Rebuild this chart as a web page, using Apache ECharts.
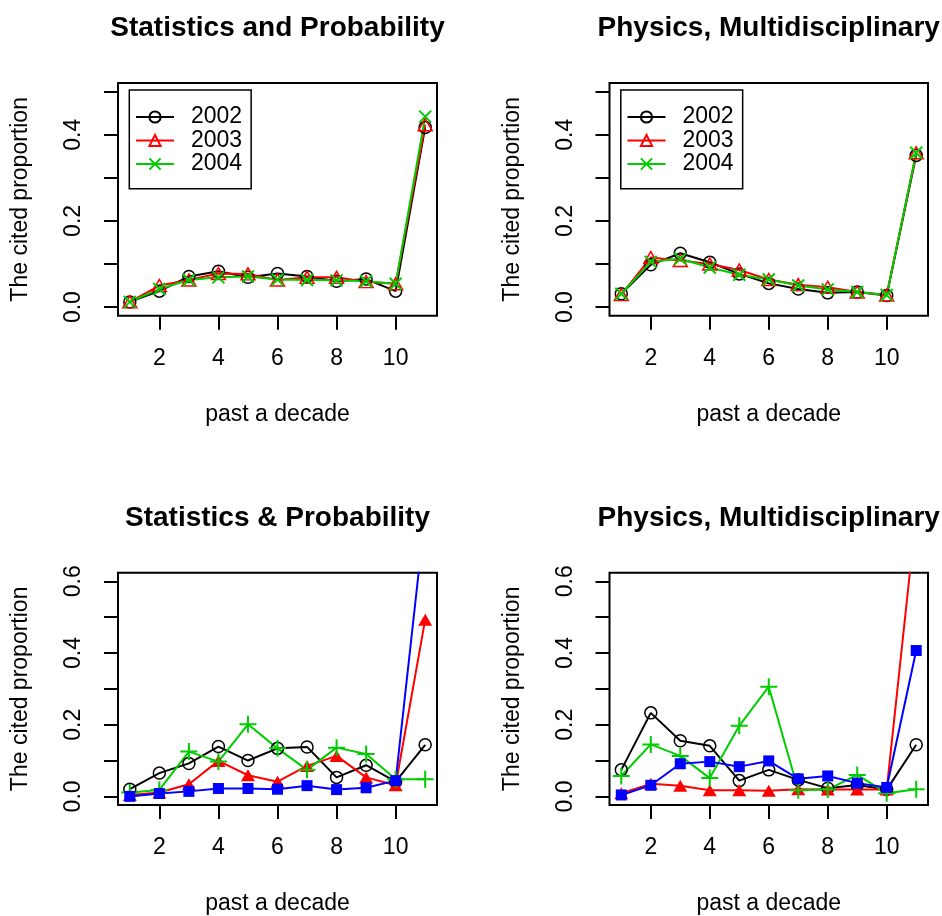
<!DOCTYPE html>
<html>
<head>
<meta charset="utf-8">
<script src="https://cdn.jsdelivr.net/npm/echarts/dist/echarts.min.js"></script>
<style>
  html, body { margin: 0; padding: 0; background: #fff; }
  #chart { width: 942px; height: 916px; }
</style>
</head>
<body>
<div id="chart"></div>
<script>
// x positions: years back in the decade
const decade = [1, 2, 3, 4, 5, 6, 7, 8, 9, 10, 11]
const xTicks = [2, 4, 6, 8, 10]
const yTicksTop = [0, 0.1, 0.2, 0.3, 0.4, 0.5]
const yLabelsTop = [0, 0.2, 0.4]
const yTicksBottom = [0, 0.1, 0.2, 0.3, 0.4, 0.5, 0.6]
const yLabelsBottom = [0, 0.2, 0.4, 0.6]

const titles = ['Statistics and Probability', 'Physics, Multidisciplinary', 'Statistics & Probability', 'Physics, Multidisciplinary']
const years = ['2002', '2003', '2004']

// top left: Statistics and Probability
const stat2002 = [0.012, 0.037, 0.071, 0.083, 0.069, 0.078, 0.071, 0.060, 0.065, 0.037, 0.417]
const stat2003 = [0.012, 0.050, 0.063, 0.078, 0.077, 0.063, 0.069, 0.069, 0.059, 0.054, 0.423]
const stat2004 = [0.012, 0.042, 0.063, 0.069, 0.071, 0.064, 0.063, 0.062, 0.060, 0.054, 0.442]

// top right: Physics, Multidisciplinary
const phys2002 = [0.031, 0.098, 0.125, 0.104, 0.077, 0.055, 0.042, 0.033, 0.035, 0.027, 0.352]
const phys2003 = [0.029, 0.115, 0.108, 0.100, 0.086, 0.064, 0.052, 0.046, 0.035, 0.028, 0.358]
const phys2004 = [0.031, 0.105, 0.112, 0.092, 0.075, 0.064, 0.050, 0.041, 0.035, 0.028, 0.358]

// bottom left: Statistics & Probability (four journals)
const statJ1 = [0.020, 0.065, 0.092, 0.139, 0.100, 0.134, 0.138, 0.053, 0.087, 0.041, 0.144]
const statJ2 = [0.004, 0.011, 0.034, 0.099, 0.059, 0.041, 0.085, 0.113, 0.053, 0.031, 0.493]
const statJ3 = [0.011, 0.018, 0.125, 0.097, 0.201, 0.134, 0.074, 0.136, 0.118, 0.048, 0.048]
const statJ4 = [0.000, 0.008, 0.014, 0.022, 0.022, 0.020, 0.030, 0.019, 0.024, 0.044, 0.790]

// bottom right: Physics, Multidisciplinary (four journals)
const physJ1 = [0.074, 0.233, 0.155, 0.141, 0.044, 0.074, 0.046, 0.023, 0.032, 0.019, 0.144]
const physJ2 = [0.009, 0.035, 0.030, 0.017, 0.017, 0.016, 0.020, 0.019, 0.019, 0.019, 0.790]
const physJ3 = [0.057, 0.145, 0.113, 0.051, 0.197, 0.306, 0.017, 0.019, 0.060, 0.009, 0.020]
const physJ4 = [0.004, 0.031, 0.091, 0.097, 0.083, 0.099, 0.049, 0.057, 0.037, 0.025, 0.407]

const FONT = '"Liberation Sans", Arial, sans-serif'
const BLACK = '#000000', RED = '#ff0000', GREEN = '#00cd00', BLUE = '#0000ff'
const NONE = 'rgba(0,0,0,0)'
const PLUS = 'path://M0,5L10,5M5,0L5,10'
const CROSS = 'path://M0,0L10,10M10,0L0,10'

// R-like point characters
const pch = {
  circle: { symbol: 'circle', size: 12, fill: NONE, bw: 1.5 },
  triOpen: { symbol: 'triangle', size: [14, 12], fill: NONE, bw: 1.5 },
  cross: { symbol: CROSS, size: 12, fill: NONE, bw: 2 },
  triFill: { symbol: 'triangle', size: [14, 12], fill: null, bw: 0 },
  plus: { symbol: PLUS, size: 17, fill: NONE, bw: 2 },
  square: { symbol: 'rect', size: 11, fill: null, bw: 0 }
}

// plot boxes [left, top, width, height]
const boxes = [
  [118, 83, 319, 232.7],
  [609.5, 83, 318.5, 232.7],
  [118, 572.7, 319, 233],
  [609.5, 572.7, 318.5, 233]
]
const yRange = [[-0.02, 0.52], [-0.02, 0.52], [-0.024, 0.624], [-0.024, 0.624]]

let ch = echarts.init(document.getElementById('chart'))

function mkSeries(name, gi, vals, color, p) {
  return {
    name: name, type: 'line', xAxisIndex: gi, yAxisIndex: gi,
    data: decade.map((x, i) => [x, vals[i]]),
    symbol: p.symbol, symbolSize: p.size, showAllSymbol: true,
    lineStyle: { color: color, width: 2 },
    itemStyle: { color: p.fill === null ? color : p.fill, borderColor: color, borderWidth: p.bw },
    emphasis: { disabled: true },
    clip: true
  }
}

let series = [
  mkSeries('2002', 0, stat2002, BLACK, pch.circle),
  mkSeries('2003', 0, stat2003, RED, pch.triOpen),
  mkSeries('2004', 0, stat2004, GREEN, pch.cross),
  mkSeries('2002', 1, phys2002, BLACK, pch.circle),
  mkSeries('2003', 1, phys2003, RED, pch.triOpen),
  mkSeries('2004', 1, phys2004, GREEN, pch.cross),
  mkSeries('journal 1', 2, statJ1, BLACK, pch.circle),
  mkSeries('journal 2', 2, statJ2, RED, pch.triFill),
  mkSeries('journal 3', 2, statJ3, GREEN, pch.plus),
  mkSeries('journal 4', 2, statJ4, BLUE, pch.square),
  mkSeries('journal 1', 3, physJ1, BLACK, pch.circle),
  mkSeries('journal 2', 3, physJ2, RED, pch.triFill),
  mkSeries('journal 3', 3, physJ3, GREEN, pch.plus),
  mkSeries('journal 4', 3, physJ4, BLUE, pch.square)
]

const txt = { fontFamily: FONT, fontSize: 23, color: BLACK }
const tickStyle = { color: BLACK, width: 2 }

let option = {
  animation: false,
  backgroundColor: '#fff',
  title: boxes.map((b, i) => ({
    text: titles[i],
    left: b[0] + b[2] / 2,
    top: b[1] - 68.5,
    textAlign: 'center',
    padding: 0,
    textStyle: { fontFamily: FONT, fontSize: 28, fontWeight: 'bold', color: BLACK }
  })),
  legend: [0, 1].map(i => ({
    data: years,
    orient: 'vertical',
    left: boxes[i][0] + 11.3,
    top: 90,
    itemWidth: 38,
    itemHeight: 14,
    itemGap: 0,
    padding: [15.25, 9, 13, 5.7],
    borderColor: BLACK,
    borderWidth: 1.5,
    selectedMode: false,
    textStyle: Object.assign({}, txt, { lineHeight: 23.5, padding: [0, 0, 0, 12] })
  })),
  grid: boxes.map(b => ({
    left: b[0], top: b[1], width: b[2], height: b[3],
    show: true, borderColor: BLACK, borderWidth: 2, backgroundColor: NONE
  })),
  xAxis: boxes.map((b, i) => ({
    type: 'value', gridIndex: i, min: 0.6, max: 11.4,
    name: 'past a decade', nameLocation: 'middle', nameGap: 87,
    nameTextStyle: txt,
    axisLine: { show: false, onZero: false },
    splitLine: { show: false },
    axisTick: { show: true, length: 14, lineStyle: tickStyle, customValues: xTicks },
    axisLabel: Object.assign({ customValues: xTicks, margin: 31 }, txt)
  })),
  yAxis: boxes.map((b, i) => ({
    type: 'value', gridIndex: i, min: yRange[i][0], max: yRange[i][1],
    name: 'The cited proportion', nameLocation: 'middle', nameGap: 97,
    nameTextStyle: Object.assign({ align: 'center', verticalAlign: 'middle' }, txt),
    axisLine: { show: false, onZero: false },
    splitLine: { show: false },
    axisTick: { show: true, length: 14, lineStyle: tickStyle, customValues: i < 2 ? yTicksTop : yTicksBottom },
    axisLabel: Object.assign({
      customValues: i < 2 ? yLabelsTop : yLabelsBottom,
      rotate: 90, margin: 44, align: 'center', verticalAlign: 'middle',
      formatter: v => v.toFixed(1)
    }, txt)
  })),
  series: series
}

ch.setOption(option)
</script>
</body>
</html>
